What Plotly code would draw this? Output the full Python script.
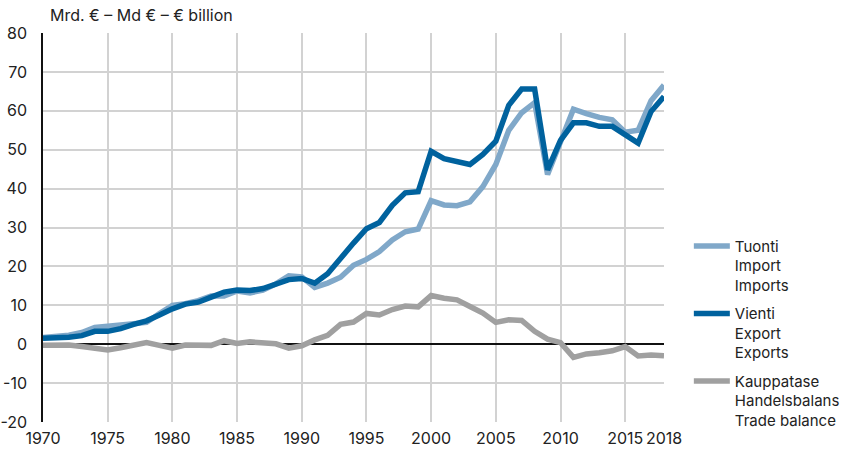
import plotly.graph_objects as go

years = list(range(1970, 2019))

# Imports, exports and trade balance, billion euros
imports = [1.7, 2.0, 2.3, 3.0, 4.3, 4.6, 4.9, 5.5, 5.6, 7.9, 10.0, 10.4, 11.2, 12.4, 12.4,
           13.7, 13.2, 13.9, 15.5, 17.6, 17.3, 14.6, 15.7, 17.2, 20.3, 21.8, 23.8, 26.8,
           28.9, 29.6, 36.9, 35.8, 35.6, 36.6, 40.5, 46.2, 55.0, 59.5, 62.1, 43.6, 52.0,
           60.4, 59.3, 58.3, 57.7, 54.5, 55.0, 62.6, 66.6]
exports = [1.5, 1.5, 1.8, 2.2, 3.3, 3.3, 4.0, 5.1, 6.0, 7.5, 9.1, 10.3, 10.8, 12.1, 13.4,
           13.9, 13.8, 14.3, 15.6, 16.6, 16.9, 15.7, 18.1, 22.3, 26.0, 29.7, 31.3, 35.7,
           38.9, 39.2, 49.6, 47.7, 47.1, 46.2, 48.8, 52.2, 61.4, 65.6, 65.6, 44.8, 52.4,
           56.9, 56.9, 56.0, 56.0, 53.8, 51.7, 59.8, 63.7]
balance = [-0.3, -0.3, -0.2, -0.6, -1.0, -1.5, -0.9, -0.2, 0.4, -0.3, -1.0, -0.2, -0.3,
           -0.3, 0.9, 0.2, 0.6, 0.4, 0.1, -1.0, -0.4, 1.1, 2.3, 5.1, 5.7, 7.9, 7.5, 8.9,
           9.8, 9.6, 12.5, 11.8, 11.4, 9.7, 8.0, 5.6, 6.3, 6.1, 3.3, 1.3, 0.4, -3.4, -2.5,
           -2.2, -1.7, -0.6, -3.0, -2.8, -3.0]

series_names = ["Tuonti<br>Import<br>Imports",
                "Vienti<br>Export<br>Exports",
                "Kauppatase<br>Handelsbalans<br>Trade balance"]
series_keys = ["imports", "exports", "balance"]
series_colors = ["#80a8c9", "#00629e", "#a0a0a0"]

y_ticks = list(range(-20, 81, 10))
y_labels = [str(v) for v in y_ticks]  # plain hyphen for negatives
x_ticks = [1970, 1975, 1980, 1985, 1990, 1995, 2000, 2005, 2010, 2015, 2018]
x_grid = [1975, 1980, 1985, 1990, 1995, 2000, 2005, 2010, 2015]

FONT = "Inter, Liberation Sans, Arial, sans-serif"
TEXT = "#222222"

fig = go.Figure()
for name, key, vals, col in zip(series_names, series_keys,
                                [imports, exports, balance], series_colors):
    fig.add_trace(go.Scatter(
        x=years, y=vals, name=name, legendgroup=key, mode="lines",
        line=dict(color=col, width=5.5),
        hoverinfo="x+y",
    ))

fig.update_layout(
    width=857, height=452,
    margin=dict(l=43, r=193, t=33, b=30, autoexpand=False),
    paper_bgcolor="white", plot_bgcolor="white",
    font=dict(family=FONT, size=16, color=TEXT),
    showlegend=True,
    legend=dict(
        x=1.04, xanchor="left", y=0.494, yanchor="top",
        valign="top", tracegroupgap=6, itemwidth=36,
        font=dict(family=FONT, size=15, color=TEXT),
        bgcolor="rgba(0,0,0,0)",
    ),
    xaxis=dict(
        range=[1970, 2018], tickmode="array", tickvals=x_ticks,
        ticktext=[str(v) for v in x_ticks],
        showgrid=False, zeroline=False, showline=False,
        ticks="", ticklabelstandoff=5,
        minor=dict(tickmode="array", tickvals=x_grid, showgrid=True,
                   gridcolor="#d2d2d2", gridwidth=1.5, ticks=""),
        tickfont=dict(size=16, color=TEXT),
    ),
    yaxis=dict(
        range=[-20, 80], tickmode="array", tickvals=y_ticks, ticktext=y_labels,
        showgrid=True, gridcolor="#d2d2d2", gridwidth=1.5,
        zeroline=True, zerolinecolor="#111111", zerolinewidth=1.5,
        showline=True, linecolor="#111111", linewidth=1.5,
        ticks="", ticklabelstandoff=11,
        tickfont=dict(size=16, color=TEXT),
    ),
    annotations=[dict(
        text="Mrd. € – Md € – € billion", xref="paper", yref="paper",
        x=0.008, y=1.0, xanchor="left", yanchor="bottom", yshift=6,
        showarrow=False, font=dict(family=FONT, size=16, color=TEXT),
    )],
)

fig.write_html("out.html")
